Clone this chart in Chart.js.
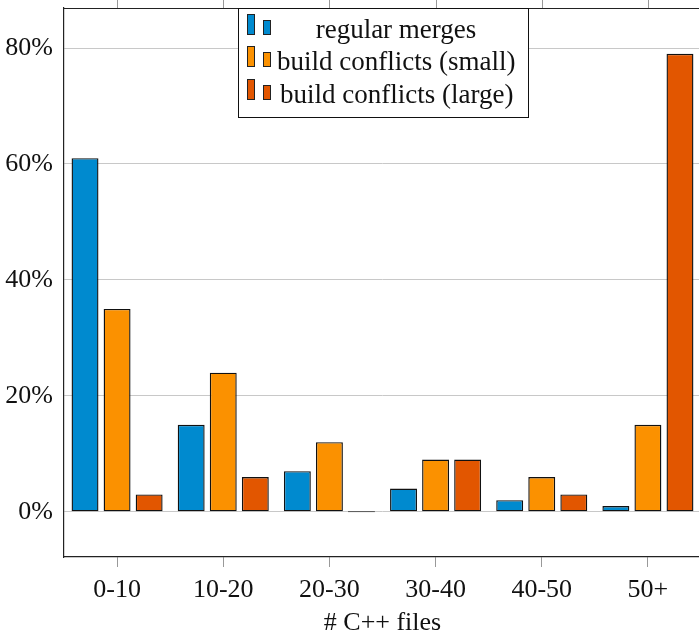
<!DOCTYPE html>
<html><head><meta charset="utf-8">
<script src="https://cdn.jsdelivr.net/npm/chart.js@4/dist/chart.umd.min.js"></script>
<style>html,body{margin:0;padding:0;overflow:hidden;background:#fff;width:699px;height:639px}#wrap{width:701px;height:639px}</style>
</head><body><div id="wrap"><canvas id="c" width="701" height="639"></canvas></div>
<script>
const categories = ["0-10","10-20","20-30","30-40","40-50","50+"];
const regularMerges = [61,15,7,4,2,1];
const buildSmall = [35,24,12,9,6,15];
const buildLarge = [3,6,0,9,3,79];
const seriesNames = ["regular merges","build conflicts (small)","build conflicts (large)"];
const yTicks = [0,20,40,60,80];
const colors = ["rgb(0,138,207)","rgb(251,145,0)","rgb(226,86,0)"];
const FONT = "'Liberation Serif','DejaVu Serif',serif";

const frame = {
  id:'frame',
  afterDraw(chart){
    const {ctx, chartArea:a, scales:{x}} = chart;
    ctx.save();
    ctx.strokeStyle='#222'; ctx.lineWidth=1.2;
    ctx.beginPath(); ctx.moveTo(a.left,a.top+0.5); ctx.lineTo(a.right,a.top+0.5); ctx.stroke();
    ctx.strokeStyle='#999'; ctx.lineWidth=1;
    categories.forEach((c,i)=>{const px=Math.round(x.getPixelForValue(i))+0.5;
      ctx.beginPath(); ctx.moveTo(px,0); ctx.lineTo(px,a.top); ctx.stroke();});
    // legend
    const L=238, T=8, R=528, B=117;
    ctx.fillStyle='#fff'; ctx.fillRect(L,T,R-L,B-T);
    ctx.strokeStyle='#111'; ctx.lineWidth=1;
    ctx.strokeRect(L+0.5,T+0.5,R-L,B-T);
    ctx.font='27px '+FONT; ctx.textBaseline='middle';
    const rows=[30,62,95];
    seriesNames.forEach((n,i)=>{
      const y=rows[i];
      ctx.fillStyle=colors[i]; ctx.strokeStyle='#222';
      ctx.fillRect(247,y-16,8,21); ctx.strokeRect(247.5,y-15.5,7,20);
      ctx.fillRect(263,y-10,8,15); ctx.strokeRect(263.5,y-9.5,7,14);
      ctx.fillStyle='#111';
      if(i===0){ctx.textAlign='center'; ctx.fillText(n,396,y+1);}
      else {ctx.textAlign='left'; ctx.fillText(n,i===1?277:280,y+1);}
    });
    ctx.restore();
  }
};

const mk=(label,data,i)=>({label,data,backgroundColor:colors[i],borderColor:'#111',borderWidth:1.4,borderSkipped:false,minBarLength:1,categoryPercentage:0.906,barPercentage:0.84});
new Chart(document.getElementById('c'),{
  type:'bar',
  data:{labels:categories,datasets:[mk(seriesNames[0],regularMerges,0),mk(seriesNames[1],buildSmall,1),mk(seriesNames[2],buildLarge,2)]},
  options:{
    responsive:false,animation:false,
    layout:{padding:{top:8,left:0,right:0,bottom:0}},
    plugins:{legend:{display:false},tooltip:{enabled:false}},
    scales:{
      x:{
        grid:{offset:false,drawOnChartArea:false,tickLength:10,color:'#999',tickWidth:1},
        border:{display:true,color:'#222',width:1.2},
        ticks:{font:{family:FONT,size:26},color:'#111',padding:8},
        title:{display:true,text:'# C++ files',font:{family:FONT,size:26},color:'#111',padding:{top:0,bottom:0}},
        afterFit(s){s.height=82;s.paddingLeft=0;s.paddingRight=0;}
      },
      y:{
        min:-7.8,max:86.9,
        afterBuildTicks(s){s.ticks=yTicks.map(v=>({value:v}));},
        grid:{color:'#c8c8c8',drawTicks:false,lineWidth:1},
        border:{display:true,color:'#222',width:1.2},
        ticks:{font:{family:FONT,size:26},color:'#111',padding:11,callback:v=>v+'%'},
        afterFit(s){s.width=64;s.paddingTop=0;s.paddingBottom=0;}
      }
    }
  },
  plugins:[frame]
});
</script></body></html>
